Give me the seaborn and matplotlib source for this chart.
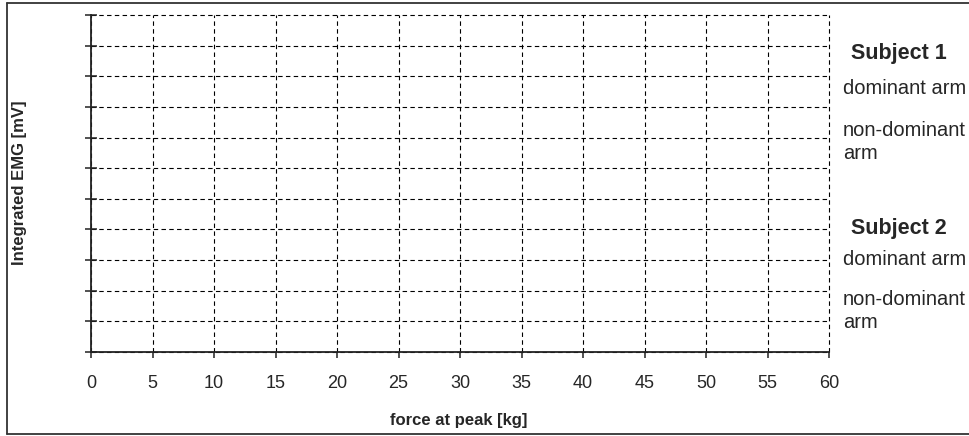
import matplotlib
matplotlib.use("Agg")
import matplotlib.pyplot as plt
from matplotlib.lines import Line2D
import seaborn as sns
import pandas as pd

# Blank worksheet: axis ranges and label text, no recorded measurements yet
x_ticks = [0, 5, 10, 15, 20, 25, 30, 35, 40, 45, 50, 55, 60]
y_grid_steps = list(range(0, 12))
subjects = ["Subject 1", "Subject 2"]
arms = ["dominant arm", "non-dominant\narm"]
force_kg = []
emg_mv = []

sns.set_theme(style="white")
plt.rcParams["font.family"] = ["Liberation Sans", "DejaVu Sans"]

W, H = 969, 436
fig = plt.figure(figsize=(W / 100, H / 100), dpi=100)
ax = fig.add_axes([91 / W, 1 - 352 / H, (829 - 91) / W, (352 - 15) / H])

data = pd.DataFrame({"force": pd.Series(force_kg, dtype=float),
                     "emg": pd.Series(emg_mv, dtype=float)})
sns.lineplot(data=data, x="force", y="emg", ax=ax)

ax.set_xlim(x_ticks[0], x_ticks[-1])
ax.set_ylim(y_grid_steps[0], y_grid_steps[-1])
ax.set_xticks(x_ticks)
ax.set_xticklabels([str(v) for v in x_ticks], fontsize=13)
ax.set_yticks(y_grid_steps)
ax.set_yticklabels([])

ax.grid(True, color="black", linestyle=(0, (4, 3)), linewidth=0.8)
ax.set_axisbelow(True)
for gl in ax.get_xgridlines() + ax.get_ygridlines():
    gl.set_clip_on(False)

for side in ["top", "right"]:
    ax.spines[side].set_visible(False)
for side in ["left", "bottom"]:
    ax.spines[side].set_color("#222222")
    ax.spines[side].set_linewidth(1.3)

ax.tick_params(axis="y", direction="inout", length=9, width=1.1, color="#222222", left=True)
ax.tick_params(axis="x", direction="out", length=4.5, width=1.1, color="#222222",
               bottom=True, pad=12)

ax.set_xlabel("")
ax.set_ylabel("")
fig.text(459 / W, 1 - 420 / H, "force at peak [kg]", ha="center", va="center",
         fontsize=12, fontweight="bold")
fig.text(20 / W, 1 - 183 / H, "Integrated EMG [mV]", ha="center", va="center",
         rotation=90, fontsize=12, fontweight="bold")

# Side captions for the two subjects
rows = [(subjects[0], 53, True), (arms[0], 88, False), (arms[1], 142, False),
        (subjects[1], 228, True), (arms[0], 259, False), (arms[1], 311, False)]
for text, ypix, bold in rows:
    fig.text((851 if bold else 843) / W, 1 - ypix / H, text, ha="left", va="center",
             fontsize=15.5 if bold else 14.5, fontweight="bold" if bold else "normal",
             linespacing=1.25)

# Frame around the sheet (open on the right side)
frame = dict(color="#333333", linewidth=1.3, transform=fig.transFigure)
fig.add_artist(Line2D([7 / W, 7 / W], [1 - 3 / H, 1 - 434 / H], **frame))
fig.add_artist(Line2D([7 / W, 1], [1 - 3 / H, 1 - 3 / H], **frame))
fig.add_artist(Line2D([7 / W, 1], [1 - 434 / H, 1 - 434 / H], **frame))

fig.savefig("out.png", dpi=100)
